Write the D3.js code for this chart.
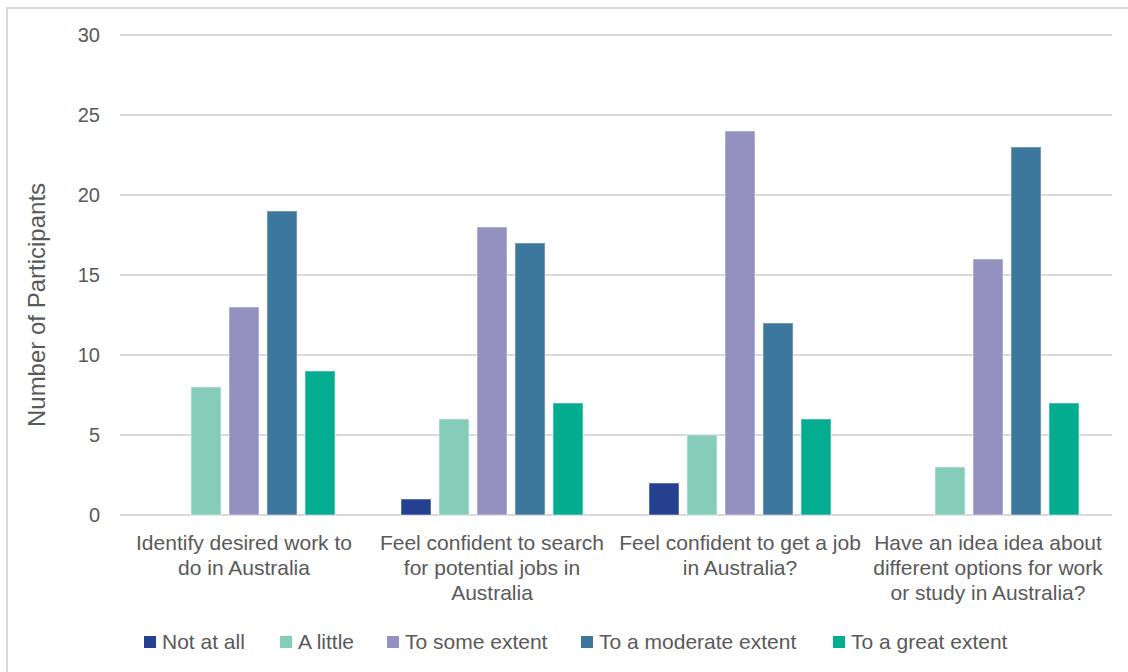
<!DOCTYPE html>
<html>
<head>
<meta charset="utf-8">
<script src="https://cdn.jsdelivr.net/npm/d3@7"></script>
<style>
  html, body { margin: 0; padding: 0; background: #fff; }
  svg { display: block; }
  text { font-family: "Liberation Sans", Arial, sans-serif; fill: #595959; }
</style>
</head>
<body>
<svg id="chart" width="1128" height="672"></svg>
<script>
// Survey questions (x categories), each wrapped into display lines
const categories = [
  "Identify desired work to do in Australia",
  "Feel confident to search for potential jobs in Australia",
  "Feel confident to get a job in Australia?",
  "Have an idea idea about different options for work or study in Australia?"
];
const categoryLines = [
  ["Identify desired work to", "do in Australia"],
  ["Feel confident to search", "for potential jobs in", "Australia"],
  ["Feel confident to get a job", "in Australia?"],
  ["Have an idea idea about", "different options for work", "or study in Australia?"]
];

// Response levels (series)
const seriesNames = ["Not at all", "A little", "To some extent", "To a moderate extent", "To a great extent"];
const seriesColors = ["#24408e", "#85cdb8", "#9490bf", "#3c779e", "#04ad8f"];

// Number of participants per question, one array per response level
const notAtAll = [0, 1, 2, 0];
const aLittle = [8, 6, 5, 3];
const toSomeExtent = [13, 18, 24, 16];
const toModerateExtent = [19, 17, 12, 23];
const toGreatExtent = [9, 7, 6, 7];
const seriesValues = [notAtAll, aLittle, toSomeExtent, toModerateExtent, toGreatExtent];

const yTicks = [0, 5, 10, 15, 20, 25, 30];

const svg = d3.select("#chart");

// Outer chart frame
svg.append("rect")
  .attr("x", 7).attr("y", 8)
  .attr("width", 1140).attr("height", 680)
  .attr("fill", "none")
  .attr("stroke", "#d9d9d9")
  .attr("stroke-width", 2);

const plot = { left: 120, right: 1112, top: 35, bottom: 515 };

const x0 = d3.scaleBand()
  .domain(categories)
  .range([plot.left, plot.right]);

const x1 = d3.scaleBand()
  .domain(seriesNames)
  .range([33, x0.bandwidth() - 33])
  .paddingInner(8 / 38);

const y = d3.scaleLinear()
  .domain([0, 30])
  .range([plot.bottom, plot.top]);

// Horizontal gridlines
svg.append("g")
  .selectAll("line")
  .data(yTicks)
  .join("line")
  .attr("x1", plot.left).attr("x2", plot.right)
  .attr("y1", d => y(d)).attr("y2", d => y(d))
  .attr("stroke", "#d9d9d9")
  .attr("stroke-width", 2);

// Y axis tick labels
const yAxis = d3.axisLeft(y).tickValues(yTicks).tickSize(0).tickPadding(0);
const yg = svg.append("g")
  .attr("transform", `translate(${plot.left - 20},0)`)
  .call(yAxis);
yg.select(".domain").remove();
yg.selectAll("text")
  .attr("font-size", 20)
  .attr("font-family", "Liberation Sans, Arial, sans-serif")
  .attr("fill", "#595959");

// Y axis title
svg.append("text")
  .attr("transform", `translate(45, 305) rotate(-90)`)
  .attr("text-anchor", "middle")
  .attr("font-size", 24)
  .text("Number of Participants");

// Bars
const groups = svg.append("g")
  .selectAll("g")
  .data(categories)
  .join("g")
  .attr("transform", d => `translate(${x0(d)},0)`);

groups.selectAll("rect")
  .data((d, i) => seriesNames.map((s, k) => ({ series: s, value: seriesValues[k][i], color: seriesColors[k] })))
  .join("rect")
  .filter(d => d.value > 0)
  .attr("x", d => x1(d.series))
  .attr("y", d => y(d.value))
  .attr("width", x1.bandwidth())
  .attr("height", d => y(0) - y(d.value))
  .attr("fill", d => d.color)
  .attr("stroke", "#ffffff")
  .attr("stroke-opacity", 0.5)
  .attr("stroke-width", 1);

// Category labels under each group
const catLabels = svg.append("g")
  .selectAll("text")
  .data(categories)
  .join("text")
  .attr("text-anchor", "middle")
  .attr("font-size", 21)
  .attr("x", d => x0(d) + x0.bandwidth() / 2)
  .attr("y", 550);
catLabels.selectAll("tspan")
  .data((d, i) => categoryLines[i])
  .join("tspan")
  .attr("x", function () { return d3.select(this.parentNode).attr("x"); })
  .attr("dy", (d, i) => i === 0 ? 0 : 25)
  .text(d => d);

// Legend
const legendX = [144, 280, 387, 581, 833];
const legend = svg.append("g")
  .selectAll("g")
  .data(seriesNames)
  .join("g")
  .attr("transform", (d, i) => `translate(${legendX[i]}, 636)`);
legend.append("rect")
  .attr("width", 12).attr("height", 12)
  .attr("fill", (d, i) => seriesColors[i]);
legend.append("text")
  .attr("x", 18).attr("y", 13)
  .attr("font-size", 21)
  .text(d => d);
</script>
</body>
</html>
